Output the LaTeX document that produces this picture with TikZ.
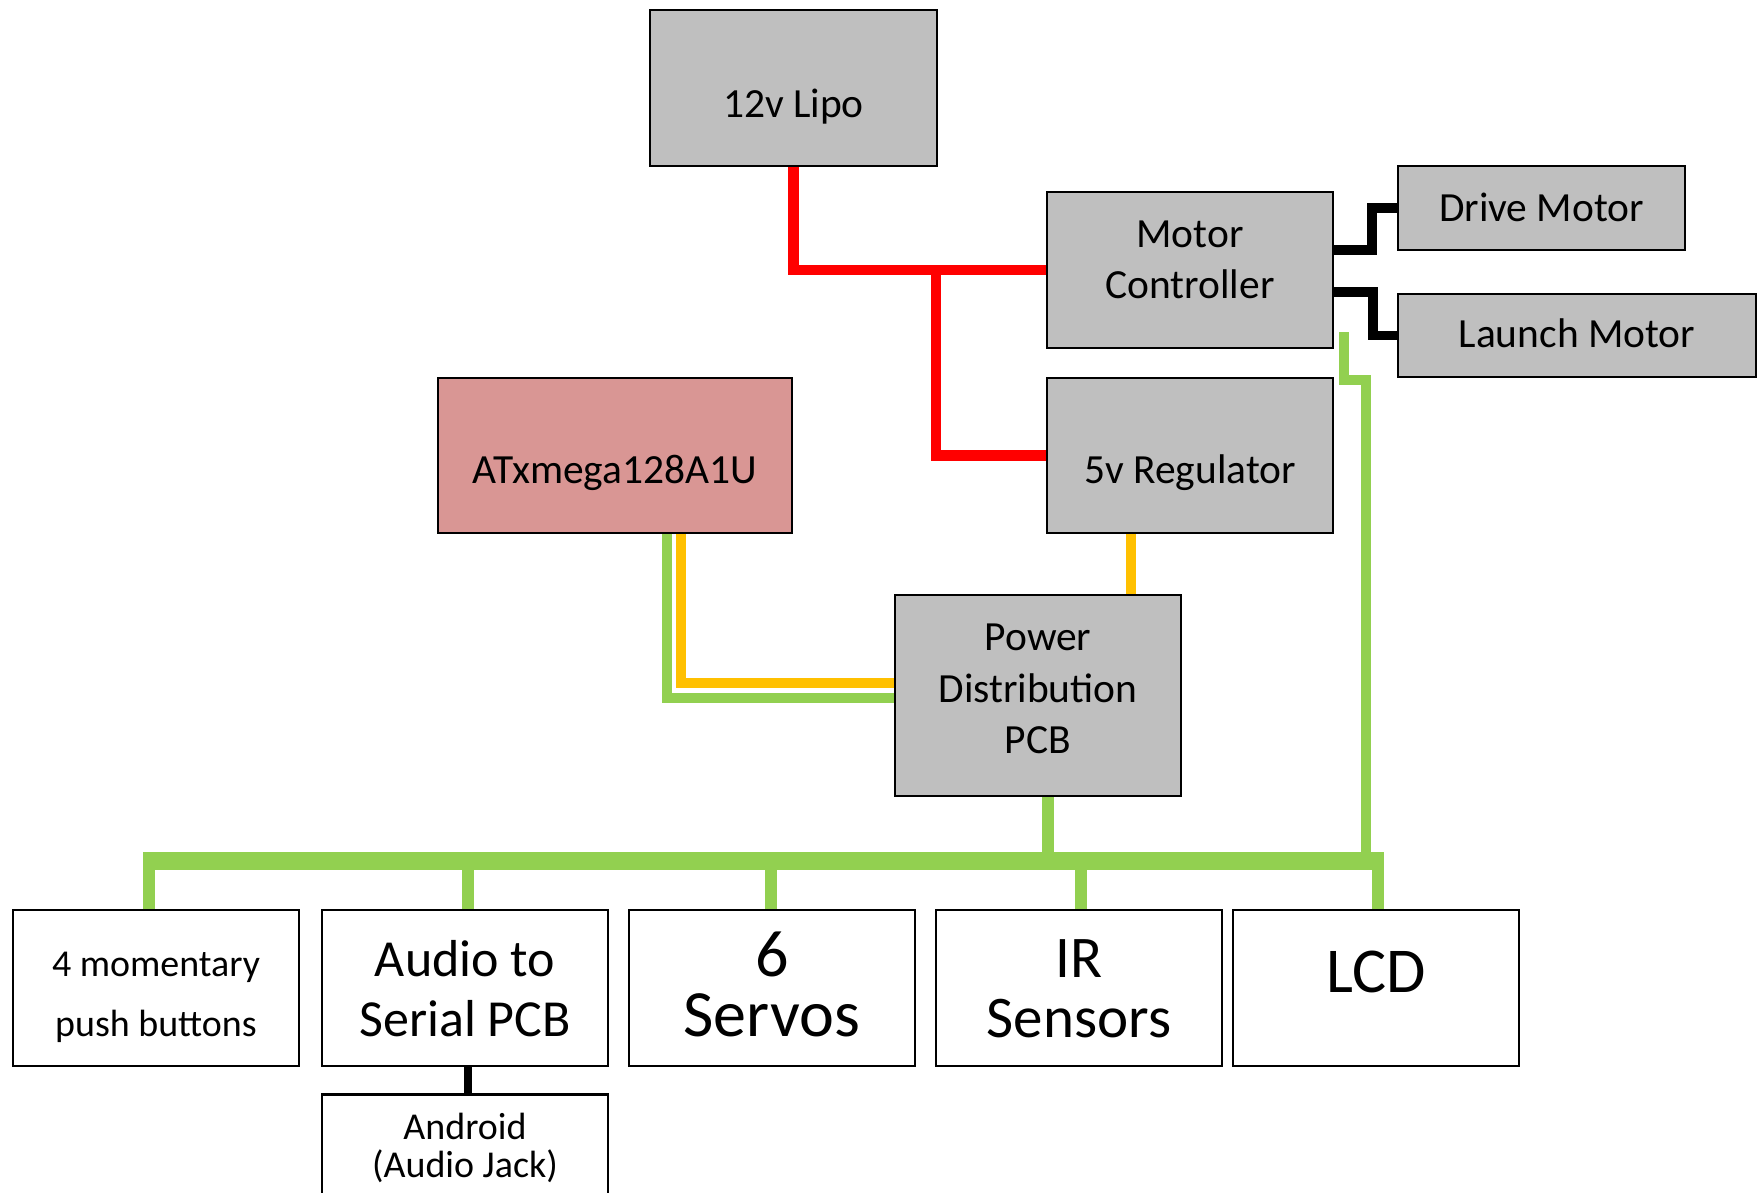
\documentclass[tikz,border=0pt]{standalone}
\usepackage{fontspec}
\setmainfont{Carlito}
\usetikzlibrary{calc}
\pgfdeclarelayer{back}
\pgfdeclarelayer{bg}
\pgfsetlayers{back,bg,main}
\definecolor{boxgray}{HTML}{BFBFBF}
\definecolor{mcupink}{HTML}{D99694}
\definecolor{wred}{HTML}{FF0000}
\definecolor{wyel}{HTML}{FFC000}
\definecolor{wgrn}{HTML}{92D050}
\begin{document}
\begin{tikzpicture}[x=0.02cm,y=-0.02cm,
  box/.style={draw=black,line width=1.4pt,inner sep=0pt,outer sep=0pt},
  gbox/.style={box,fill=boxgray},
  wbox/.style={box,fill=white},
  redw/.style={draw=wred,line width=6.2pt},
  yelw/.style={draw=wyel,line width=5.6pt},
  grnw/.style={draw=wgrn,line width=5.6pt},
  busw/.style={draw=wgrn,line width=10.6pt},
  dropw/.style={draw=wgrn,line width=6.4pt},
  blkw/.style={draw=black,line width=5.5pt},
  tA/.style={anchor=base,inner sep=0pt,font=\fontsize{23.6pt}{28pt}\selectfont},
  tS/.style={anchor=base,inner sep=0pt,font=\fontsize{21.6pt}{26pt}\selectfont},
  tAu/.style={anchor=base,inner sep=0pt,font=\fontsize{29.6pt}{34pt}\selectfont},
  tSv/.style={anchor=base,inner sep=0pt,font=\fontsize{37.6pt}{42pt}\selectfont},
  tIR/.style={anchor=base,inner sep=0pt,font=\fontsize{33.6pt}{38pt}\selectfont},
  tL/.style={anchor=base,inner sep=0pt,font=\fontsize{36.4pt}{40pt}\selectfont}]
\begin{pgfonlayer}{back}
\fill[white] (0,0) rectangle (1758,1193);
\end{pgfonlayer}
\useasboundingbox (0,0) rectangle (1758,1193);

% boxes
\node[gbox,minimum width=5.74cm,minimum height=3.12cm] (lipo) at (793.5,88) {};
\node[gbox,minimum width=5.72cm,minimum height=3.12cm] (mc) at (1190,270) {};
\node[gbox,minimum width=5.74cm,minimum height=1.68cm] (drive) at (1541.5,208) {};
\node[gbox,minimum width=7.16cm,minimum height=1.66cm] (launch) at (1577,335.5) {};
\node[box,fill=mcupink,minimum width=7.08cm,minimum height=3.10cm] (atx) at (615,455.5) {};
\node[gbox,minimum width=5.72cm,minimum height=3.10cm] (reg) at (1190,455.5) {};
\node[gbox,minimum width=5.72cm,minimum height=4.02cm] (pcb) at (1038,695.5) {};
\node[wbox,minimum width=5.72cm,minimum height=3.12cm] (btn) at (156,988) {};
\node[wbox,minimum width=5.72cm,minimum height=3.12cm] (audio) at (465,988) {};
\node[wbox,minimum width=5.72cm,minimum height=3.12cm] (servo) at (772,988) {};
\node[wbox,minimum width=5.72cm,minimum height=3.12cm] (ir) at (1079,988) {};
\node[wbox,minimum width=5.72cm,minimum height=3.12cm] (lcd) at (1376,988) {};
\node[wbox,minimum width=5.72cm,minimum height=2.02cm] (android) at (465,1145) {};

% texts
\node[tA] (lipo-t) at (793.5,117) {12v Lipo};
\node[tA] (mc-t1) at (1190,247) {Motor};
\node[tA] (mc-t2) at (1190,298) {Controller};
\node[tA] (drive-t) at (1541.5,221) {Drive Motor};
\node[tA] (launch-t) at (1577,347) {Launch Motor};
\node[tA] (atx-t) at (615,483) {ATxmega128A1U};
\node[tA] (reg-t) at (1190,483) {5v Regulator};
\node[tA] (pcb-t1) at (1038,650) {Power};
\node[tA] (pcb-t2) at (1038,702) {Distribution};
\node[tA] (pcb-t3) at (1038,753) {PCB};
\node[tS] (btn-t1) at (156,976) {4 momentary};
\node[tS] (btn-t2) at (156,1036) {push buttons};
\node[tAu] (audio-t1) at (465,976) {Audio to};
\node[tAu] (audio-t2) at (465,1036) {Serial PCB};
\node[tSv] (servo-t1) at (772,976) {6};
\node[tSv] (servo-t2) at (772,1036) {Servos};
\node[tIR] (ir-t1) at (1079,977) {IR};
\node[tIR] (ir-t2) at (1079,1037) {Sensors};
\node[tL] (lcd-t) at (1376,992) {LCD};
\node[tS] (android-t1) at (465,1139) {Android};
\node[tS] (android-t2) at (465,1177) {(Audio Jack)};

% connector points
\coordinate (rj) at (936,270);
\coordinate (yr) at (1131,533);
\coordinate (busL) at (143,861);
\coordinate (busR) at (1382,861);
\coordinate (d1) at (149,852);
\coordinate (d2) at (468,852);
\coordinate (d3) at (771,852);
\coordinate (d4) at (1081,852);
\coordinate (d5) at (1378,852);
\coordinate (dp) at (1048,861);
\coordinate (mcg) at (1344,332);
\coordinate (rg) at (1366,853);

\begin{pgfonlayer}{bg}
% red power
\draw[redw] (lipo.south) |- (mc.west);
\draw[redw] (rj) |- (reg.west);
% yellow 5v
\draw[yelw] (yr) -- (yr |- pcb.north);
\draw[yelw] ($(atx.south)+(66,0)$) |- ($(pcb.west)+(0,-12.5)$);
\draw[grnw] ($(atx.south)+(52,0)$) |- ($(pcb.west)+(0,2.5)$);
% green bus
\draw[busw] (busL) -- (busR);
\draw[dropw] (pcb.south -| dp) -- (dp);
\draw[dropw] (d1) -- (d1 |- btn.north);
\draw[dropw] (d2) -- (d2 |- audio.north);
\draw[dropw] (d3) -- (d3 |- servo.north);
\draw[dropw] (d4) -- (d4 |- ir.north);
\draw[dropw] (d5) -- (d5 |- lcd.north);
\draw[draw=wgrn,line width=5.2pt] (mcg) -- ++(0,48) -| (rg);
% black
\draw[blkw] ($(mc.east)+(0,-20)$) -- ++(39,0) |- (drive.west);
\draw[blkw] ($(mc.east)+(0,22)$) -- ++(40,0) |- (launch.west);
\draw[blkw,line width=4.8pt] ($(audio.south)+(3,0)$) -- ($(android.north)+(3,0)$);
\end{pgfonlayer}
\end{tikzpicture}
\end{document}
